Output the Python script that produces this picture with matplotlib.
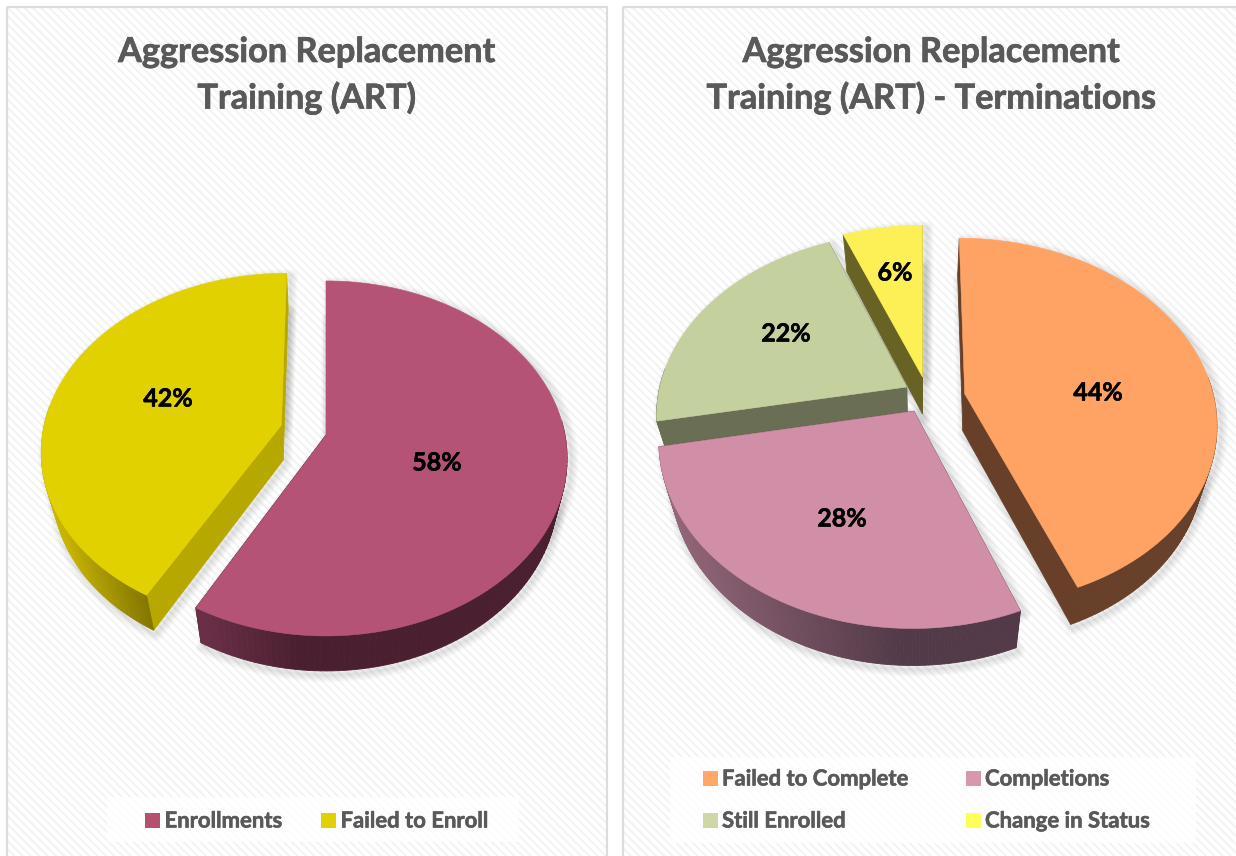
import numpy as np
import matplotlib
matplotlib.use("Agg")
import matplotlib.pyplot as plt
import matplotlib.patheffects as pe
from matplotlib.patches import Rectangle, Polygon
from matplotlib.colors import to_rgb
from matplotlib.collections import PolyCollection

# ---- data ----
left_title = "Aggression Replacement\nTraining (ART)"
left_categories = ["Enrollments", "Failed to Enroll"]
left_values = [58, 42]
right_title = "Aggression Replacement\nTraining (ART) - Terminations"
right_categories = ["Failed to Complete", "Completions", "Still Enrolled", "Change in Status"]
right_values = [44, 28, 22, 6]

# ---- style / layout ----
W, H = 1236, 856
FONT = "Lato"
TITLE_C = "#595959"
LEG_C = "#595959"

left_style = dict(
    cx=326, cy=435, a=239, b=174.4, p=0.132, s=0.96, d=35,
    explode=[(0.0, 0.0), (-0.188, 0.057)],
    top=["#b45375", "#e1d100"],
    radial=["#4a1f30", "#b7a800"],
    wall=[("#6a2f47", "#4a1f30", 204, 300), ("#c8b500", "#7f7200", 60, 154)],
    draw_order=[1, 0],
    label_xy=[(437, 463), (168, 399)],
)
right_style = dict(
    cx=923, cy=397, a=249, b=180, p=0.15, s=0.955, d=37,
    explode=[(0.168, 0.017), (-0.036, -0.078), (-0.066, 0.056), (-0.002, 0.113)],
    top=["#ffa365", "#d08fa6", "#c5d09f", "#fdf057"],
    radial=["#68402a", "#533a48", "#6a6e55", "#686325"],
    wall=[("#68402a", "#68402a", 0, 1), ("#94677a", "#533a48", 665, 900),
          ("#6a6e55", "#6a6e55", 0, 1), ("#686325", "#686325", 0, 1)],
    draw_order=[3, 2, 0, 1],
    label_xy=[(1098, 393), (842, 519), (786, 334), (895, 273)],
)

plt.rcParams["hatch.linewidth"] = 1.3
fig = plt.figure(figsize=(W / 100, H / 100), dpi=100)
ax = fig.add_axes([0, 0, 1, 1])
ax.set_xlim(0, W)
ax.set_ylim(H, 0)
ax.axis("off")


def panel(x0, x1, y0=7, y1=880):
    ax.add_patch(Rectangle((x0, y0), x1 - x0, y1 - y0, facecolor="white",
                           edgecolor="#f2f2f2", hatch="\\\\\\\\", lw=0, zorder=0))
    ax.add_patch(Rectangle((x0, y0), x1 - x0, y1 - y0, facecolor="none",
                           edgecolor="#dcdcdc", lw=1.6, zorder=0.5))


def project(st, u, v):
    w = 1 + st["p"] * v
    return st["cx"] + st["a"] * u / w, st["cy"] - st["b"] * v / w


def lower(st, x, y):
    return st["cx"] + (x - st["cx"]) * st["s"], y + st["d"]


def mix(c0, c1, t):
    t = np.clip(t, 0, 1)
    a, b = np.array(to_rgb(c0)), np.array(to_rgb(c1))
    return tuple(a + (b - a) * t)


def heavy(color, w):
    return [pe.withStroke(linewidth=w, foreground=color)]


def draw_pie(values, st):
    fr = np.array(values, dtype=float) / np.sum(values)
    edges = np.concatenate([[0], np.cumsum(fr)]) * 2 * np.pi
    geo = []
    for i in range(len(values)):
        t0, t1 = edges[i], edges[i + 1]
        ou, ov = st["explode"][i]
        th = np.linspace(t0, t1, 160)
        rx, ry = project(st, ou + np.sin(th), ov + np.cos(th))
        ax_, ay_ = project(st, ou, ov)
        geo.append((rx, ry, ax_, ay_, th))

    # soft drop shadow
    for rx, ry, ax_, ay_, th in geo:
        lx, ly = lower(st, rx, ry)
        lax, lay = lower(st, ax_, ay_)
        low = np.column_stack([np.r_[lax, lx], np.r_[lay, ly]]) + [2, 4]
        topp = np.column_stack([np.r_[ax_, rx], np.r_[ay_, ry]]) + [4, 3]
        for lw in np.arange(1.5, 12, 1.5):
            for pts in (low, topp):
                ax.add_patch(Polygon(pts, closed=True, fill=False, edgecolor="black",
                                     lw=lw, alpha=0.016, joinstyle="round", zorder=1))

    z = 2
    for i in st["draw_order"]:
        rx, ry, ax_, ay_, th = geo[i]
        lx, ly = lower(st, rx, ry)
        lax, lay = lower(st, ax_, ay_)
        # radial walls
        for k in (0, -1):
            quad = [(ax_, ay_), (rx[k], ry[k]), (lx[k], ly[k]), (lax, lay)]
            ax.add_patch(Polygon(quad, closed=True, facecolor=st["radial"][i],
                                 edgecolor=st["radial"][i], lw=0.6, zorder=z))
        # outer wall, only on the near side of the rim, shaded across x
        c0, c1, x0, x1 = st["wall"][i]
        quads, cols = [], []
        for j in range(len(rx) - 1):
            if np.cos(th[j]) > 0.1:
                continue
            quads.append([(rx[j], ry[j]), (rx[j + 1], ry[j + 1]),
                          (lx[j + 1], ly[j + 1]), (lx[j], ly[j])])
            cols.append(mix(c0, c1, (rx[j] - x0) / (x1 - x0)))
        ax.add_collection(PolyCollection(quads, facecolors=cols, edgecolors=cols,
                                         linewidths=0.6, zorder=z + 0.1))
        # top face
        ax.add_patch(Polygon(np.column_stack([np.r_[ax_, rx], np.r_[ay_, ry]]), closed=True,
                             facecolor=st["top"][i], edgecolor=st["top"][i], lw=0.4,
                             zorder=z + 0.2))
        z += 1
    for v, (x, y) in zip(values, st["label_xy"]):
        ax.text(x, y, f"{v}%", ha="center", va="center", fontsize=18, fontweight="bold",
                family=FONT, color="black", zorder=20, path_effects=heavy("black", 0.4))


def draw_title(text, x):
    for line, y in zip(text.split("\n"), (52, 98)):
        ax.text(x, y, line, ha="center", va="center", fontsize=24.7, fontweight="bold",
                family=FONT, color=TITLE_C, zorder=20, path_effects=heavy(TITLE_C, 0.5))


def legend_box(x0, x1, y0, y1):
    ax.add_patch(Rectangle((x0, y0), x1 - x0, y1 - y0, facecolor="white", edgecolor="none",
                           alpha=0.8, zorder=5))


def legend_item(x, y, label, color):
    ax.add_patch(Rectangle((x, y - 7.5), 15, 15, facecolor=color, edgecolor="none", zorder=6))
    ax.text(x + 19.5, y + 1, label, ha="left", va="center", fontsize=15.9, fontweight="bold",
            family=FONT, color=LEG_C, zorder=20, path_effects=heavy(LEG_C, 0.4))


panel(7, 607)
panel(623, 1260)

draw_title(left_title, 306.5)
draw_title(right_title, 931)
draw_pie(left_values, left_style)
draw_pie(right_values, right_style)

legend_box(107, 519, 797, 842)
legend_item(145, 820, left_categories[0], "#b5506f")
legend_item(321, 820, left_categories[1], "#e3d000")

legend_box(670, 1196, 757, 843)
legend_item(702.5, 778, right_categories[0], "#ffa868")
legend_item(965.5, 778, right_categories[1], "#d798ae")
legend_item(702.5, 820, right_categories[2], "#cfd8a5")
legend_item(965.5, 820, right_categories[3], "#ffff5a")

fig.savefig("out.png", dpi=100)
